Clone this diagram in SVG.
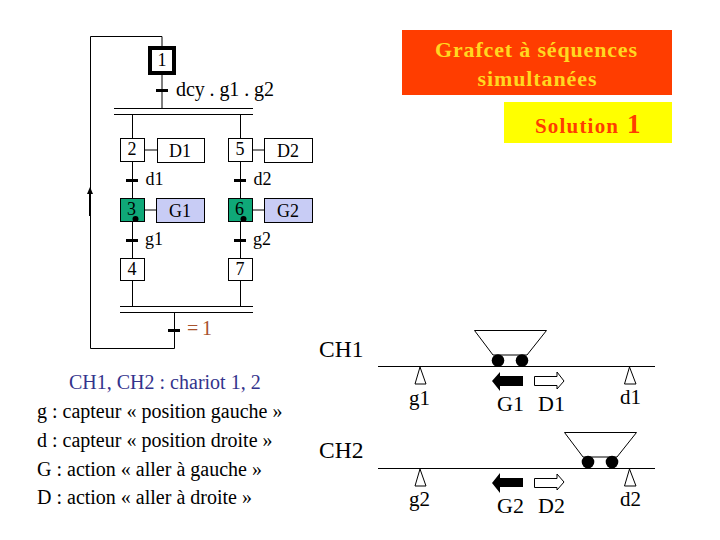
<svg xmlns="http://www.w3.org/2000/svg" width="720" height="540" viewBox="0 0 720 540">
<style>
text{font-family:"Liberation Serif",serif;fill:#000}
.s{font-size:18px;text-anchor:middle}
.b{fill:#fff;stroke:#000;stroke-width:1}
.g{fill:#0fa878;stroke:#000;stroke-width:1}
.a{fill:#c8ccf5;stroke:#000;stroke-width:1}
.l{fill:none;stroke:#000;stroke-width:1}
.k{stroke:#000;stroke-width:3;fill:none}
.tx{font-size:18px}
.m{font-size:22px}
.n{font-size:21px}
.h{font-size:23.500px}
.y{font-weight:bold;font-size:22px;fill:#ffd820;text-anchor:middle}
.o{font-weight:bold;fill:#ff3d00}
</style>
<rect width="720" height="540" fill="#fff"/>
<g id="connectors">
<path class="l" d="M162 47V36.500H90.500V348.500H174.500V312"/>
<path class="l" d="M162 75V108.500M114 108.500H253M114 114.500H253M132.500 114V140M240.500 114V140M132.500 162V198M240.500 162V198M132.500 222V258M240.500 222V258M132.500 281V306.500M240.500 281V306.500M120 306.500H253M120 312.500H253"/>
<path class="l" d="M145 150H157M253 150H264M145 210H157M253 210H264"/>
<path class="k" d="M156 90.500H168M126 180.500H138M234 180.500H246M126 240.500H138M234 240.500H246M168 330.500H180"/>
<path d="M90 216V190" stroke="#000" stroke-width="2" fill="none"/>
<path d="M90 187L93 194H87Z" fill="#000"/>
</g>
<g id="title"><rect x="402" y="30" width="270" height="65" fill="#ff3d00"/>
<text class="y" x="536" y="57" textLength="202" lengthAdjust="spacing">Grafcet à séquences</text>
<text class="y" x="537" y="86" textLength="119" lengthAdjust="spacing">simultanées</text></g>
<g id="solution"><rect x="504" y="102" width="168" height="41" fill="#ffff00"/>
<text class="o" x="535" y="133" font-size="21" textLength="83" lengthAdjust="spacing">Solution</text>
<text class="o" x="627" y="133" font-size="27">1</text></g>
<g id="step1"><rect x="150" y="48" width="24" height="25" fill="#fff" stroke="#000" stroke-width="4"/><text class="s" x="162" y="66">1</text></g>
<text id="t1" x="176" y="96" font-size="20" textLength="98" lengthAdjust="spacing">dcy . g1 . g2</text>
<g id="step2"><rect class="b" x="120.500" y="138.500" width="24" height="23"/><text class="s" x="132" y="155">2</text></g>
<g id="actD1"><rect class="b" x="157.500" y="138.500" width="47" height="24"/><text class="s" x="180" y="157">D1</text></g>
<g id="step5"><rect class="b" x="228.500" y="138.500" width="24" height="23"/><text class="s" x="240" y="155">5</text></g>
<g id="actD2"><rect class="b" x="264.500" y="138.500" width="48" height="24"/><text class="s" x="288" y="157">D2</text></g>
<text x="145.500" y="185" class="tx">d1</text><text x="253.500" y="185" class="tx">d2</text>
<g id="step3"><rect class="g" x="120.500" y="198.500" width="24" height="23"/><text class="s" x="131.500" y="215">3</text><circle cx="135.500" cy="219" r="3"/></g>
<g id="actG1"><rect class="a" x="156.500" y="198.500" width="48" height="24"/><text class="s" x="180" y="217">G1</text></g>
<g id="step6"><rect class="g" x="228.500" y="198.500" width="24" height="23"/><text class="s" x="239.500" y="215">6</text><circle cx="243.500" cy="219" r="3"/></g>
<g id="actG2"><rect class="a" x="264.500" y="198.500" width="48" height="24"/><text class="s" x="288" y="217">G2</text></g>
<text x="145" y="245" class="tx">g1</text><text x="253" y="245" class="tx">g2</text>
<g id="step4"><rect class="b" x="120.500" y="258.500" width="24" height="22"/><text class="s" x="132" y="275">4</text></g>
<g id="step7"><rect class="b" x="228.500" y="258.500" width="24" height="22"/><text class="s" x="240" y="275">7</text></g>
<text x="187" y="335" font-size="20" style="fill:#a8532d" textLength="25" lengthAdjust="spacing">=1</text>
<g id="legend" font-size="20">
<text x="69" y="389" style="fill:#33338c">CH1, CH2 : chariot 1, 2</text>
<text x="37" y="418">g : capteur « position gauche »</text>
<text x="37" y="447">d : capteur « position droite »</text>
<text x="37" y="476">G : action « aller à gauche »</text>
<text x="37" y="504">D : action « aller à droite »</text>
</g>
<text x="319" y="357" class="h">CH1</text>
<text x="319" y="458" class="h">CH2</text>
<g id="track1">
<path class="l" d="M378 366.500H655"/>
<path class="b" d="M420 367L415 384H426Z"/>
<path class="b" d="M629.500 367L624.500 384H636Z"/>
<text x="409" y="405" class="n">g1</text><text x="620" y="404" class="n">d1</text>
<path class="l" d="M474.500 330.500H546.500L527 355H493Z"/>
<circle cx="498" cy="360.500" r="6.300"/><circle cx="522" cy="360.500" r="6.300"/>
<path d="M523 376V386H500V391L492 381 500 372V376Z" fill="#000"/>
<path d="M534.500 376.500H557V372L564 381 557 389V385.500H534.500Z" class="b"/>
<text x="497" y="411" class="m">G1</text><text x="538" y="411" class="m">D1</text>
</g>
<g id="track2">
<path class="l" d="M378 468.500H655"/>
<path class="b" d="M420 469L415 486H426Z"/>
<path class="b" d="M629.500 469L624.500 486H636Z"/>
<text x="409" y="506" class="n">g2</text><text x="620" y="506" class="n">d2</text>
<path class="l" d="M564.500 432.500H636.500L617 457H583Z"/>
<circle cx="588" cy="462" r="6.300"/><circle cx="612" cy="462" r="6.300"/>
<path d="M523 478V487H500V493L492 483 500 473V478Z" fill="#000"/>
<path d="M534.500 478.500H557V474L564 482 557 490V487.500H534.500Z" class="b"/>
<text x="497" y="513" class="m">G2</text><text x="538" y="513" class="m">D2</text>
</g>
</svg>
